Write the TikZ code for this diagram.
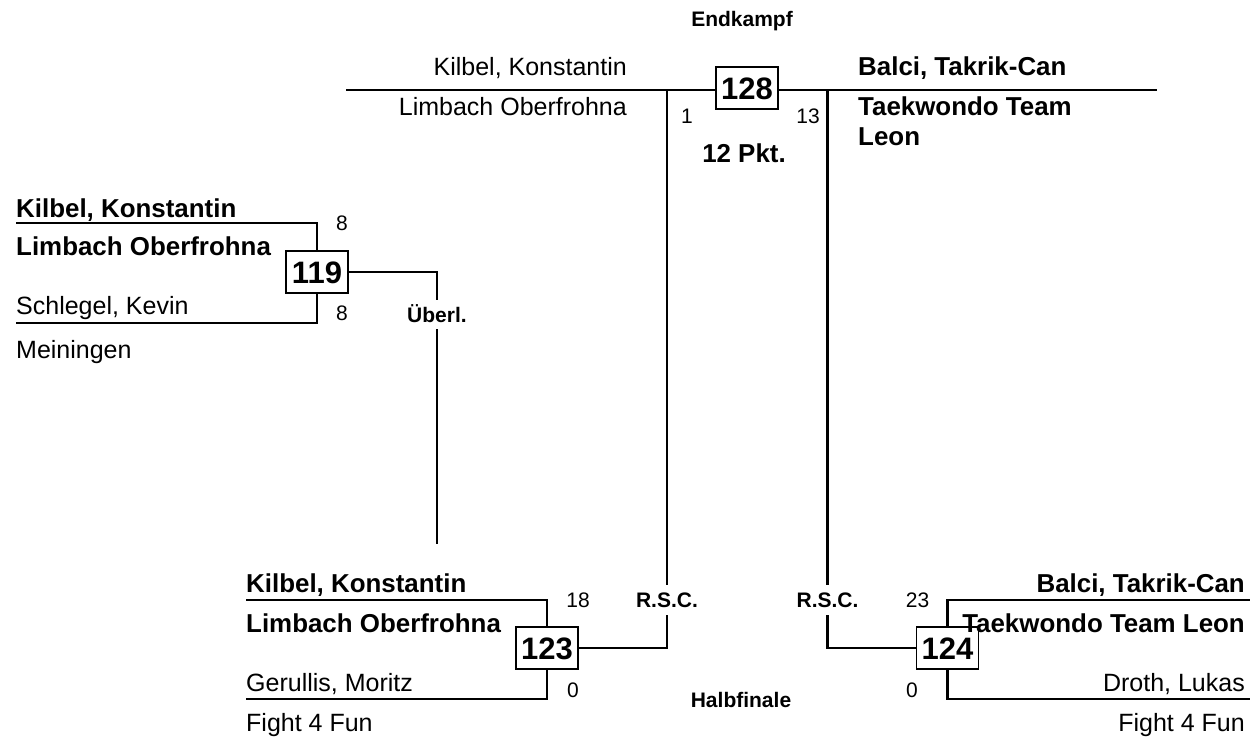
\documentclass[tikz,border=0pt]{standalone}
\usepackage{fontspec}
\setmainfont{Liberation Sans}
\begin{document}
\begin{tikzpicture}[x=1pt,y=-1pt,
  line/.style={line width=2.4pt},
  big/.style={font=\fontsize{25}{30}\selectfont, inner sep=0pt},
  bigb/.style={font=\fontsize{25.9}{30}\selectfont\bfseries, inner sep=0pt},
  small/.style={font=\fontsize{21}{25}\selectfont, inner sep=0pt},
  smallb/.style={font=\fontsize{21}{25}\selectfont\bfseries, inner sep=0pt},
  fightbox/.style={draw, line width=1.1pt, fill=white, minimum width=62pt, minimum height=42pt, inner sep=0pt,
    font=\fontsize{31}{36}\selectfont\bfseries, text height=22pt, text depth=0pt},
  gaplabel/.style={smallb, minimum height=29pt, text height=15pt, text depth=0pt}]
\useasboundingbox (0,0) rectangle (1250,739);

% fight boxes
\node[fightbox] (b128) at (747,88) {128};
\node[fightbox] (b119) at (317,272) {119};
\node[fightbox] (b123) at (547,648) {123};
\node[fightbox] (b124) at (947.5,648) {124};

% gap labels on connectors
\node[gaplabel] (ueberl) at (437,314.5) {Überl.};
\node[gaplabel] (rscL) at (667,600) {R.S.C.};
\node[gaplabel] (rscR) at (827.5,600) {R.S.C.};

% free ends
\coordinate (topL) at (346,90);
\coordinate (topR) at (1157,90);
\coordinate (jL) at (667,90);
\coordinate (jR) at (827.5,90);
\coordinate (ueEnd) at (437,544);
\coordinate (a119t) at (16,223);
\coordinate (a119b) at (16,323);
\coordinate (a123t) at (246,600);
\coordinate (a123b) at (246,699);
\coordinate (a124t) at (1250,600);
\coordinate (a124b) at (1250,699);

% connectors
\draw[line] (topL) -- (topL -| b128.west);
\draw[line] (topR -| b128.east) -- (topR);
\draw[line] (jL) -- (rscL.north);
\draw[line] (jR) -- (rscR.north);
\draw[line] (b123.east) -| (rscL.south);
\draw[line] (b124.west) -| (rscR.south);
\draw[line] (b119.east) -| (ueberl.north);
\draw[line] (ueberl.south) -- (ueEnd);
\draw[line] (a119t) -| (b119.north);
\draw[line] (a119b) -| (b119.south);
\draw[line] (a123t) -| (b123.north);
\draw[line] (a123b) -| (b123.south);
\draw[line] (a124t) -| (b124.north);
\draw[line] (a124b) -| (b124.south);

% redraw boxes on top of lines
\node[fightbox] at (b128) {128};
\node[fightbox] at (b119) {119};
\node[fightbox] at (b123) {123};
\node[fightbox] at (b124) {124};

% final
\node[smallb, anchor=base] (endk) at (742,26) {Endkampf};
\node[big, anchor=base east] (f1n) at (627,75) {Kilbel, Konstantin};
\node[big, anchor=base east] (f1c) at (627,115) {Limbach Oberfrohna};
\node[bigb, anchor=base west] (f2n) at (858,75) {Balci, Takrik-Can};
\node[bigb, anchor=base west] (f2c) at (858,115) {Taekwondo Team};
\node[bigb, anchor=base west] (f2c2) at (858,145) {Leon};
\node[small, anchor=base] (s1) at (687,123) {1};
\node[small, anchor=base] (s13) at (808,123) {13};
\node[bigb, anchor=base] (pkt) at (744,162) {12 Pkt.};

% 119
\node[bigb, anchor=base west] (n119a) at (16,217) {Kilbel, Konstantin};
\node[bigb, anchor=base west] (c119a) at (16,255) {Limbach Oberfrohna};
\node[big, anchor=base west] (n119b) at (16,314) {Schlegel, Kevin};
\node[big, anchor=base west] (c119b) at (16,358) {Meiningen};
\node[small, anchor=base] (s119a) at (342,230) {8};
\node[small, anchor=base] (s119b) at (342,320) {8};

% 123
\node[bigb, anchor=base west] (n123a) at (246,592) {Kilbel, Konstantin};
\node[bigb, anchor=base west] (c123a) at (246,632) {Limbach Oberfrohna};
\node[big, anchor=base west] (n123b) at (246,691) {Gerullis, Moritz};
\node[big, anchor=base west] (c123b) at (246,731) {Fight 4 Fun};
\node[small, anchor=base] (s123a) at (578,607) {18};
\node[small, anchor=base] (s123b) at (573,697) {0};

% 124
\node[bigb, anchor=base east] (n124a) at (1245,592) {Balci, Takrik-Can};
\node[bigb, anchor=base east] (c124a) at (1245,632) {Taekwondo Team Leon};
\node[big, anchor=base east] (n124b) at (1245,691) {Droth, Lukas};
\node[big, anchor=base east] (c124b) at (1245,731) {Fight 4 Fun};
\node[small, anchor=base] (s124a) at (917.5,607) {23};
\node[small, anchor=base] (s124b) at (912,697) {0};

\node[smallb, anchor=base] (halb) at (741,707) {Halbfinale};
\end{tikzpicture}
\end{document}
